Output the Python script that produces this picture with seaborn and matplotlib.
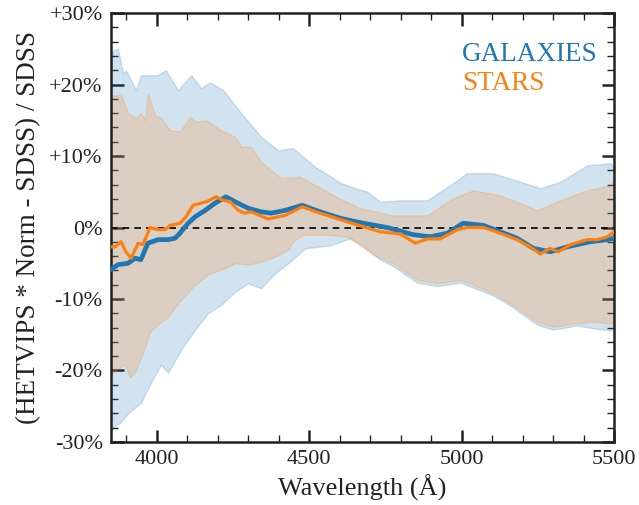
import numpy as np
import pandas as pd
import matplotlib
matplotlib.use("Agg")
import matplotlib.pyplot as plt
from matplotlib.ticker import MultipleLocator, FixedLocator, FixedFormatter
import seaborn as sns

# Fractional residuals (in %) of the normalised HETVIPS spectra against SDSS
gal_wave = [3850, 3873, 3906, 3929, 3948, 3971, 4004, 4037, 4060, 4076, 4103, 4126,
            4159, 4191, 4227, 4257, 4300, 4342, 4375, 4421, 4477, 4536, 4602, 4677,
            4756, 4841, 4897, 4953, 5005, 5071, 5127, 5182, 5235, 5291, 5347, 5422,
            5478, 5500]
gal_mean = [-5.9, -5.2, -5.0, -4.3, -4.5, -2.2, -1.7, -1.7, -1.5, -0.8, 0.6, 1.5,
            2.4, 3.4, 4.3, 3.6, 2.7, 2.2, 2.0, 2.4, 3.1, 2.2, 1.3, 0.6,
            0.0, -1.0, -1.3, -0.8, 0.6, 0.3, -0.6, -1.5, -2.9, -3.4, -2.7, -2.0,
            -1.7, -1.5]

star_wave = [3850, 3863, 3883, 3899, 3916, 3939, 3955, 3978, 4004, 4027, 4044, 4076,
             4096, 4119, 4145, 4168, 4195, 4218, 4241, 4267, 4290, 4309, 4365, 4421,
             4477, 4536, 4625, 4733, 4799, 4848, 4887, 4930, 4986, 5018, 5071, 5127,
             5182, 5225, 5258, 5291, 5317, 5357, 5412, 5445, 5478, 5500]
star_mean = [-2.7, -2.7, -2.0, -3.4, -4.3, -2.2, -2.4, 0.0, -0.3, -0.3, 0.3, 0.6,
             1.5, 3.1, 3.4, 3.7, 4.3, 3.8, 3.6, 2.4, 2.0, 2.2, 1.2, 1.7,
             2.9, 2.0, 0.8, -0.6, -0.9, -2.2, -1.6, -1.6, -0.3, 0.0, 0.0, -0.8,
             -1.7, -2.7, -3.7, -2.9, -3.4, -2.4, -1.7, -1.7, -1.3, -0.6]

# Scatter envelopes (upper and lower edges)
gal_hi_wave = [3850, 3857, 3873, 3889, 3899, 3932, 3948, 4004, 4030, 4070, 4113, 4145,
               4175, 4218, 4277, 4342, 4398, 4447, 4519, 4605, 4651, 4690, 4733, 4799,
               4887, 4972, 5018, 5103, 5192, 5258, 5324, 5412, 5488, 5500]
gal_hi = [23.5, 24.8, 25.0, 21.6, 22.0, 19.2, 21.3, 21.3, 22.0, 19.2, 21.3, 19.5,
          20.3, 19.2, 16.0, 12.7, 10.8, 11.1, 8.5, 6.2, 5.5, 5.0, 3.6, 3.8,
          3.8, 6.2, 7.6, 7.6, 6.4, 5.5, 6.4, 8.7, 9.0, 8.5]

gal_lo_wave = [3850, 3857, 3880, 3906, 3948, 3981, 4014, 4037, 4080, 4126, 4168, 4211,
               4257, 4300, 4342, 4388, 4431, 4487, 4569, 4635, 4677, 4733, 4775, 4854,
               4920, 4996, 5103, 5159, 5248, 5301, 5379, 5432, 5488, 5500]
gal_lo = [-29.0, -27.9, -27.3, -26.0, -24.5, -21.7, -19.2, -20.3, -17.1, -14.3, -12.0, -10.8,
          -9.0, -7.8, -8.5, -6.4, -5.0, -2.9, -2.5, -1.5, -2.6, -4.5, -5.4, -7.7,
          -8.2, -7.7, -9.5, -10.9, -13.6, -14.3, -13.7, -14.1, -14.4, -14.1]

star_hi_wave = [3850, 3857, 3883, 3906, 3932, 3948, 3962, 3971, 3994, 4014, 4044, 4076,
                4109, 4126, 4162, 4211, 4257, 4277, 4309, 4342, 4408, 4470, 4539, 4602,
                4667, 4775, 4887, 4972, 5038, 5127, 5192, 5248, 5324, 5412, 5488, 5500]
star_hi = [18.0, 18.5, 18.5, 16.0, 15.3, 16.0, 15.0, 18.8, 15.7, 15.3, 13.6, 13.4,
           15.5, 14.8, 15.0, 13.6, 12.7, 11.3, 11.3, 9.2, 6.9, 7.1, 5.5, 4.0,
           2.7, 1.7, 1.7, 4.1, 5.2, 4.5, 3.4, 2.4, 3.8, 5.2, 5.9, 6.6]

star_lo_wave = [3850, 3863, 3896, 3912, 3929, 3962, 3978, 4004, 4037, 4080, 4126, 4168,
                4211, 4257, 4300, 4342, 4388, 4431, 4447, 4480, 4560, 4625, 4667, 4710,
                4775, 4854, 4920, 4996, 5103, 5159, 5248, 5301, 5379, 5432, 5488, 5500]
star_lo = [-21.0, -20.0, -19.2, -20.9, -20.3, -16.7, -14.6, -13.6, -12.5, -10.1, -8.0, -6.6,
           -5.9, -5.0, -5.2, -4.8, -4.1, -3.1, -2.0, -1.0, -1.0, -1.3, -2.5, -3.8,
           -5.0, -7.3, -7.8, -7.3, -9.2, -10.6, -13.2, -13.9, -13.4, -13.2, -13.4, -13.4]

y_ticks = [-30, -20, -10, 0, 10, 20, 30]
y_tick_labels = ["-30%", "-20%", "-10%", "0%", "+10%", "+20%", "+30%"]
x_ticks = [4000, 4500, 5000, 5500]

blue = "#1f77b4"
orange = "#ff7f0e"
ink = "#222222"

sns.set_theme(style="ticks")
plt.rcParams["font.family"] = ["Liberation Serif", "DejaVu Serif"]

fig = plt.figure(figsize=(6.39, 5.05), dpi=100)
ax = fig.add_axes([0.1737, 0.1248, 0.7872, 0.8494])

# Envelopes: both edges sampled on a shared wavelength grid
gx = sorted(set(gal_hi_wave) | set(gal_lo_wave))
sx = sorted(set(star_hi_wave) | set(star_lo_wave))
ax.fill_between(gx, np.interp(gx, gal_lo_wave, gal_lo), np.interp(gx, gal_hi_wave, gal_hi),
                facecolor=blue, edgecolor=blue, alpha=0.2, lw=1.0, zorder=1)
ax.fill_between(sx, np.interp(sx, star_lo_wave, star_lo), np.interp(sx, star_hi_wave, star_hi),
                facecolor=orange, edgecolor=orange, alpha=0.2, lw=1.0, zorder=1.5)

ax.axhline(0, color="black", lw=1.2, ls=(0, (4, 3)), zorder=2)

gal_df = pd.DataFrame({"wave": gal_wave, "resid": gal_mean})
star_df = pd.DataFrame({"wave": star_wave, "resid": star_mean})
sns.lineplot(data=gal_df, x="wave", y="resid", ax=ax, color=blue, lw=3.4,
             estimator=None, sort=False, zorder=3)
sns.lineplot(data=star_df, x="wave", y="resid", ax=ax, color=orange, lw=2.3,
             estimator=None, sort=False, zorder=4)

ax.set_xlim(3850, 5500)
ax.set_ylim(-30, 30)
ax.xaxis.set_major_locator(FixedLocator(x_ticks))
ax.xaxis.set_minor_locator(MultipleLocator(100))
ax.yaxis.set_major_locator(FixedLocator(y_ticks))
ax.yaxis.set_major_formatter(FixedFormatter(y_tick_labels))
ax.yaxis.set_minor_locator(MultipleLocator(2))

ax.tick_params(which="both", direction="in", top=True, right=True, colors=ink,
               labelcolor=ink)
ax.tick_params(which="major", length=9, width=1.8, labelsize=16, pad=6)
ax.tick_params(which="minor", length=5, width=1.0)
for s in ax.spines.values():
    s.set_linewidth(1.8)
    s.set_color(ink)

ax.set_xlabel("Wavelength (Å)", fontsize=19, color=ink, labelpad=4)
ax.set_ylabel("(HETVIPS * Norm - SDSS) / SDSS", fontsize=19.5, color=ink, labelpad=6)

ax.text(0.698, 0.889, "GALAXIES", transform=ax.transAxes, ha="left", va="baseline",
        color=blue, fontsize=19.5)
ax.text(0.698, 0.82, "STARS", transform=ax.transAxes, ha="left", va="baseline",
        color=orange, fontsize=19.5)

fig.savefig("out.png", dpi=100)
